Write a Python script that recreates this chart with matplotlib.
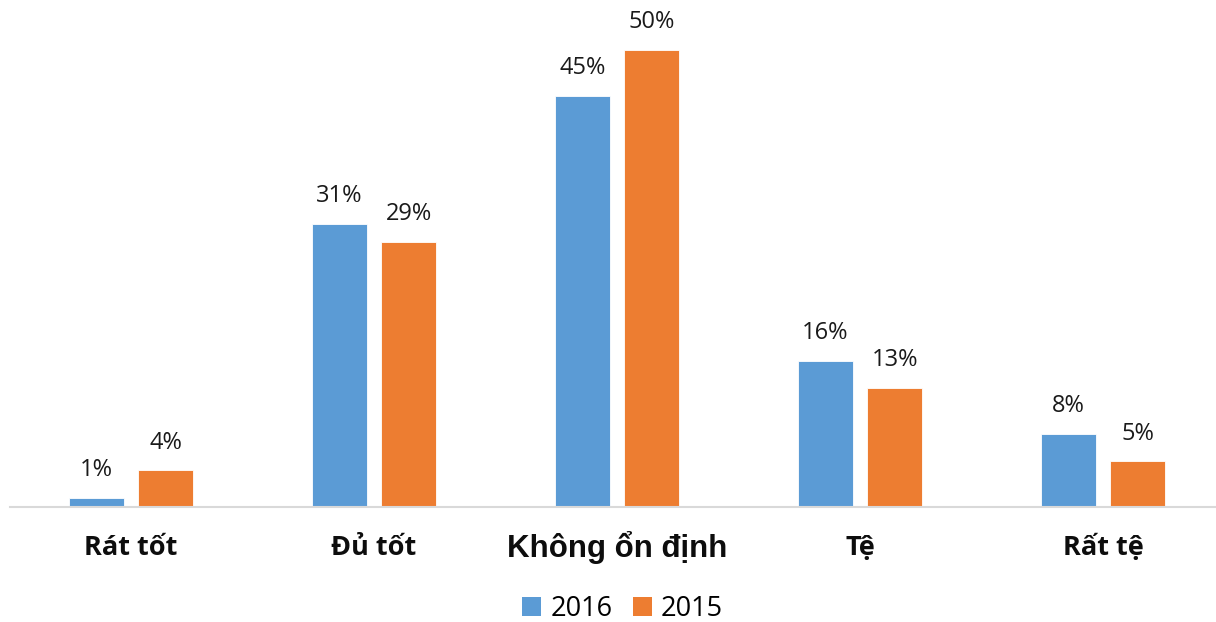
import matplotlib as mpl
mpl.use('Agg')
from matplotlib import pyplot as plt
from matplotlib.patches import Patch
import numpy as np

categories = ['Rát tốt', 'Đủ tốt', 'Không ổn định', 'Tệ', 'Rất tệ']
years = ['2016', '2015']
values_2016 = [1, 31, 45, 16, 8]
values_2015 = [4, 29, 50, 13, 5]
colors = ['#5B9BD5', '#ED7D31']

fig = plt.figure(figsize=(12.16, 6.22), dpi=100)
ax = fig.add_axes([10 / 1216, 115 / 622, 1206 / 1216, 507 / 622])

x = np.arange(len(categories))
width = 0.226
offset = 0.143

for vals, dx, col in [(values_2016, -offset, colors[0]), (values_2015, offset, colors[1])]:
    bars = ax.bar(x + dx, vals, width, color=col, edgecolor='white', linewidth=0.6, zorder=2)
    for b, v in zip(bars, vals):
        ax.annotate('%d%%' % v, (b.get_x() + b.get_width() / 2, v),
                    xytext=(0, 20), textcoords='offset points',
                    ha='center', va='center', fontsize=17,
                    family='Open Sans', color='#1a1a1a')

ax.set_xlim(-0.498, 4.465)
ax.set_ylim(0, 55.47)

for s in ['top', 'left', 'right']:
    ax.spines[s].set_visible(False)
ax.spines['bottom'].set_color('#D9D9D9')
ax.spines['bottom'].set_linewidth(1.5)
ax.set_yticks([])
ax.set_xticks(x)
ax.set_xticklabels([])
ax.tick_params(axis='x', length=0)

# category names under the baseline
for i, name in enumerate(categories):
    if name == 'Không ổn định':
        ax.text(i, -4.45, name, ha='center', va='center', fontsize=22.5,
                fontweight='bold', family='Liberation Sans', color='#0d0d0d')
    else:
        ax.text(i, -4.45, name, ha='center', va='center', fontsize=19.5,
                fontweight='bold', family='Open Sans', color='#0d0d0d')

handles = [Patch(facecolor=c, edgecolor='none') for c in colors]
fig.legend(handles, years, loc='center', bbox_to_anchor=(622.5 / 1216, 1 - 609 / 622),
           ncol=2, frameon=False, handlelength=0.7, handleheight=0.7,
           handletextpad=0.35, columnspacing=0.75,
           prop={'family': 'Open Sans', 'size': 19.5})

fig.savefig('out.png', dpi=100)
